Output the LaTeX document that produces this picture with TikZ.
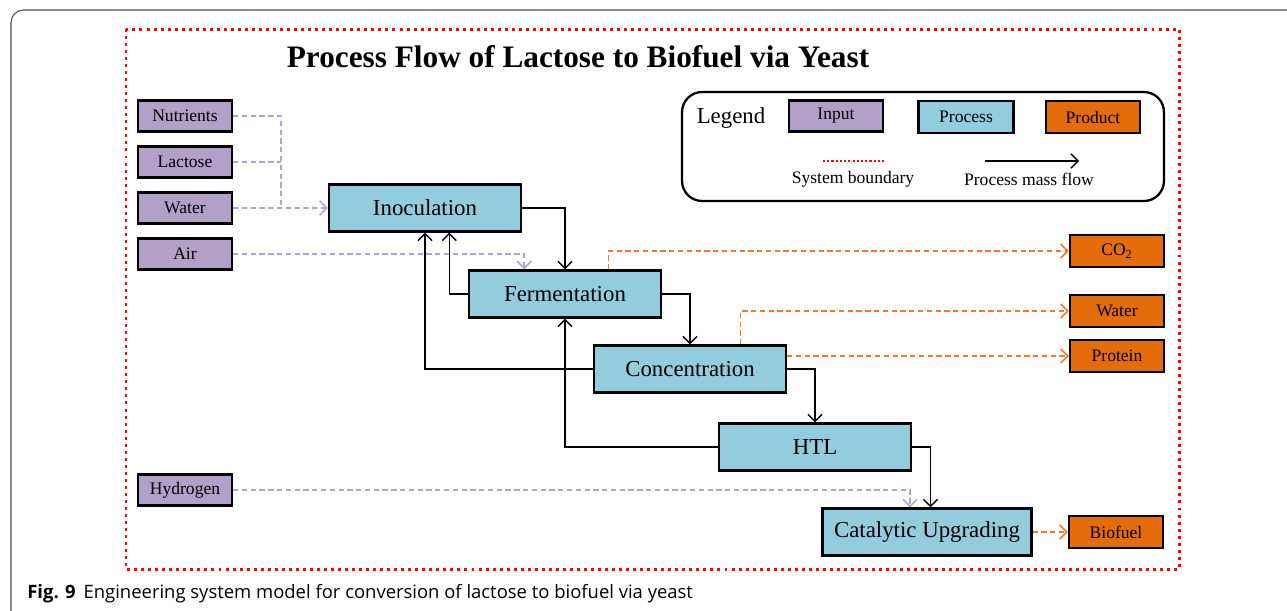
\documentclass[tikz,border=0pt]{standalone}
\usepackage{fontspec}
\setmainfont{Liberation Serif}
\newfontfamily\capfont{Open Sans}
\usepackage{tikz}
\usetikzlibrary{arrows.meta,calc}

\definecolor{inpurple}{HTML}{B1A0C7}
\definecolor{inline}{HTML}{B3A2D0}
\definecolor{procblue}{HTML}{93CDDD}
\definecolor{prodorange}{HTML}{E46C0A}
\definecolor{outline}{HTML}{F4782A}

\begin{document}
\begin{tikzpicture}[x=0.02cm,y=-0.02cm,node distance=0.92cm,
    input node/.style={draw,line width=1.3pt,fill=inpurple,inner sep=0pt,
        minimum width=1.88cm,minimum height=0.62cm,font=\fontsize{10}{12}\selectfont},
    process node/.style={draw,line width=1.3pt,fill=procblue,inner sep=0pt,
        minimum width=3.84cm,minimum height=0.94cm,font=\fontsize{13}{15}\selectfont},
    product node/.style={draw,line width=1.3pt,fill=prodorange,inner sep=0pt,
        minimum width=1.88cm,minimum height=0.64cm,font=\fontsize{10}{12}\selectfont},
    flow/.style={line width=0.8pt,-{Straight Barb[length=4pt,width=8pt]}},
    inflow/.style={line width=0.9pt,inline,dash pattern=on 3pt off 2pt},
    outflow/.style={line width=0.9pt,outline,dash pattern=on 3pt off 2pt},
    tip/.style={-{Straight Barb[length=4pt,width=8pt]}}]
    \useasboundingbox (0,0) rectangle (1287,610);

    % page frame and system boundary
    \draw[black!70,line width=0.6pt,rounded corners=0.25cm] (11,10) rectangle (1320,640);
    \draw[red,line width=1.7pt,dash pattern=on 1.7pt off 2.3pt] (126,29) rectangle (1179,569);

    \node (title) at (578,57) {\fontsize{17.8}{20}\selectfont\bfseries Process Flow of Lactose to Biofuel via Yeast};

    % inputs
    \node[input node] (nut) at (185,116) {Nutrients};
    \node[input node] (lac) [below of=nut] {Lactose};
    \node[input node] (wat) [below of=lac] {Water};
    \node[input node] (air) [below of=wat] {Air};
    \node[input node] (hyd) at (185,490) {Hydrogen};

    % processes
    \node[process node] (inoc) at (425,208) {Inoculation};
    \node[process node] (ferm) at (565,294) {Fermentation};
    \node[process node] (conc) at (690,369) {Concentration};
    \node[process node] (htl) at (815,447) {HTL};
    \node[process node,minimum width=4.18cm] (cat) at (927,532) {Catalytic Upgrading};

    % products
    \node[product node] (co2) at (1117,251) {CO\textsubscript{2}};
    \node[product node] (wout) at (1117,311) {Water};
    \node[product node] (prot) at (1117,356) {Protein};
    \node[product node] (bio) at (1116,532) {Biofuel};

    % legend
    \node[draw,line width=1.3pt,rounded corners=0.4cm,minimum width=9.64cm,minimum height=2.18cm] (leg) at (923,146.5) {};
    \node (legtxt) at (731,118) {\fontsize{13}{15}\selectfont Legend};
    \node[input node] (lin) at (836,116) {Input};
    \node[process node,minimum width=1.9cm,minimum height=0.64cm,font=\fontsize{10}{12}\selectfont] (lproc) at (966,117) {Process};
    \node[product node] (lprod) at (1093,117) {Product};
    \coordinate (lba) at (823,161);
    \coordinate (lbb) at (884,161);
    \coordinate (lfa) at (985,161);
    \coordinate (lfb) at (1079,161);
    \draw[red,line width=1.2pt,dash pattern=on 1.2pt off 1.2pt] (lba) -- (lbb);
    \draw[flow] (lfa) -- (lfb);
    \node[font=\fontsize{10}{12}\selectfont] (lbtxt) at (853,179) {System boundary};
    \node[font=\fontsize{10}{12}\selectfont] (lftxt) at (1029,179) {Process mass flow};

    % input streams
    \coordinate (junc) at (281,208);
    \draw[inflow] (nut.east) -| (junc);
    \draw[inflow] (lac.east) -- (lac.east -| junc);
    \draw[inflow,tip] (wat.east) -- (inoc.west);
    \draw[inflow,tip] (air.east) -| ($(ferm.north west)!0.29!(ferm.north east)$);
    \draw[inflow,tip] (hyd.east) -| ($(cat.north west)!0.42!(cat.north east)$);

    % main process flow
    \draw[flow] (inoc.east) -| (ferm.north);
    \draw[flow] (ferm.east) -| (conc.north);
    \draw[flow] (conc.east) -| (htl.north);
    \draw[flow] (htl.east) -| ($(cat.north west)!0.517!(cat.north east)$);
    \draw[flow] (ferm.west) -| ($(inoc.south west)!0.625!(inoc.south east)$);
    \draw[flow] (conc.west) -| (inoc.south);
    \draw[flow] (htl.west) -| (ferm.south);

    % products
    \draw[outflow,tip] ($(ferm.north west)!0.724!(ferm.north east)$) |- (co2.west);
    \draw[outflow,tip] ($(conc.north west)!0.76!(conc.north east)$) |- (wout.west);
    \draw[outflow,tip] (conc.east |- prot.west) -- (prot.west);
    \draw[outflow,tip] (cat.east) -- (bio.west);

    % caption
    \node[anchor=west,font=\capfont\fontsize{10.5}{12}\selectfont,inner sep=0pt] (cap) at (27,594)
        {\textbf{Fig. 9}\hspace{4.5pt}Engineering system model for conversion of lactose to biofuel via yeast};
\end{tikzpicture}
\end{document}
